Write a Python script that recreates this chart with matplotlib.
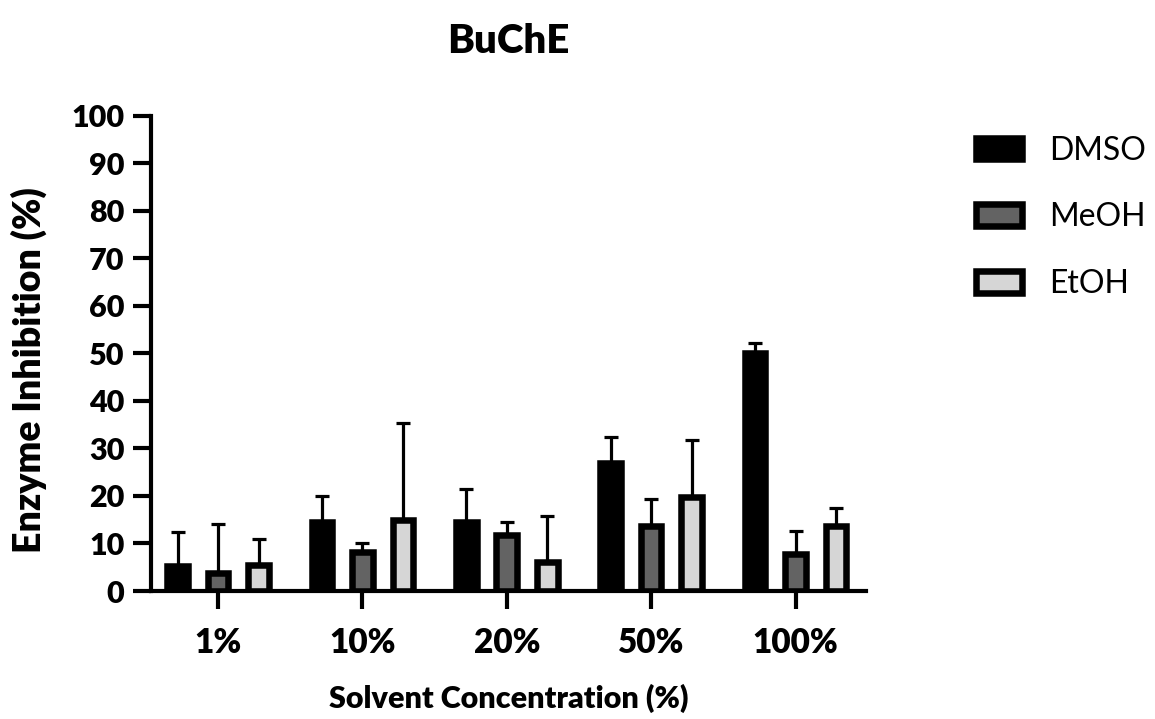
import matplotlib
matplotlib.use("Agg")
import matplotlib.pyplot as plt
import numpy as np

# values (mean and upper SD)
concentrations = ["1%", "10%", "20%", "50%", "100%"]
solvents = ["DMSO", "MeOH", "EtOH"]
dmso_mean = [5.3, 14.6, 14.5, 27.0, 50.1]
dmso_sd = [7.1, 5.3, 7.0, 5.5, 2.0]
meoh_mean = [3.7, 8.3, 11.7, 13.6, 7.7]
meoh_sd = [10.4, 1.8, 2.9, 5.8, 4.9]
etoh_mean = [5.4, 15.0, 6.2, 19.7, 13.6]
etoh_sd = [5.6, 20.3, 9.6, 12.0, 3.8]
fills = ["#000000", "#636363", "#d6d6d6"]

plt.rcParams['font.family'] = ['Lato', 'DejaVu Sans']

fig = plt.figure(figsize=(11.55, 7.19), dpi=100)
ax = fig.add_axes([0.1307, 0.178, 0.6193, 0.661])

x = np.arange(len(concentrations))
width = 0.143
offsets = [-0.28, 0.0, 0.28]
means = [dmso_mean, meoh_mean, etoh_mean]
sds = [dmso_sd, meoh_sd, etoh_sd]

for i in range(3):
    ax.errorbar(x + offsets[i], means[i], yerr=[np.zeros(len(x)), sds[i]],
                fmt='none', ecolor='black', elinewidth=2.3, capsize=5,
                capthick=2.3, zorder=1)
    ax.bar(x + offsets[i], means[i], width=width, color=fills[i],
           edgecolor='black', linewidth=4.7, label=solvents[i], zorder=2)

ax.set_xlim(-0.465, 4.49)
ax.set_ylim(0, 100)
ax.set_yticks(range(0, 101, 10))
ax.set_xticks(x)
ax.set_xticklabels(concentrations)

for s in ['top', 'right']:
    ax.spines[s].set_visible(False)
for s in ['left', 'bottom']:
    ax.spines[s].set_linewidth(3)
ax.tick_params(axis='both', length=13, width=3)
ax.tick_params(axis='y', pad=6, labelsize=22)
ax.tick_params(axis='x', pad=13, labelsize=24)
for lab in ax.get_xticklabels() + ax.get_yticklabels():
    lab.set_fontweight('heavy')

ax.set_xlabel("Solvent Concentration (%)", fontsize=22, fontweight='heavy', labelpad=18)
ax.set_ylabel("Enzyme Inhibition (%)", fontsize=27, fontweight='heavy')
ax.yaxis.set_label_coords(-0.146, 0.465)
ax.set_title("BuChE", fontsize=29, fontweight='heavy', pad=45)

leg = ax.legend(loc='upper left', bbox_to_anchor=(1.154, 0.958), frameon=False,
                fontsize=23, handlelength=1.42, handleheight=0.67,
                labelspacing=1.15, handletextpad=0.87,
                borderpad=0, borderaxespad=0)

plt.savefig("out.png", dpi=100)
